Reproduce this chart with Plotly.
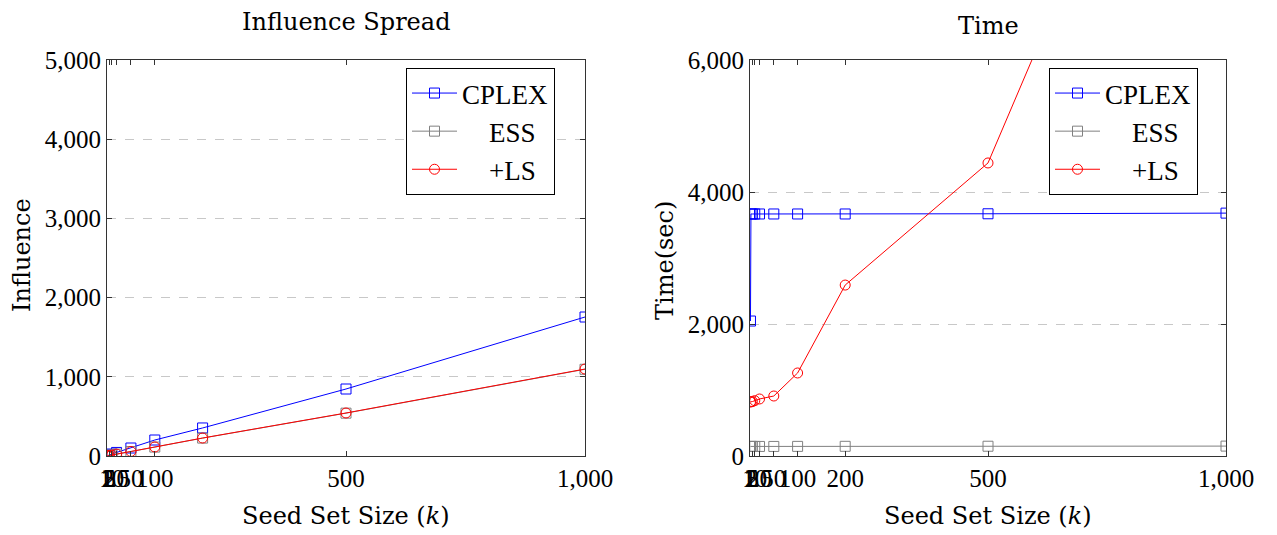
import plotly.graph_objects as go

seed_sizes = [1, 2, 5, 10, 20, 50, 100, 200, 500, 1000]

# Influence spread
inf_cplex = [3, 6, 13, 25, 45, 101, 202, 354, 846, 1755]
inf_ess = [1.4, 2.8, 6.3, 11.8, 23.5, 56, 113, 226, 541, 1095]
inf_ls = [1.5, 3, 6.5, 12, 24, 57, 114, 227, 543, 1098]

# Time (sec)
time_cplex = [2045, 3667, 3667, 3667, 3667, 3667, 3667, 3667, 3670, 3680]
time_ess = [145, 145, 145, 145, 145, 145, 146, 147, 148, 150]
time_ls = [820, 820, 825, 838, 864, 909, 1258, 2590, 4440, 12900]

left_ticks = [1, 2, 5, 10, 20, 50, 100, 500, 1000]
right_ticks = [1, 2, 5, 10, 20, 50, 100, 200, 500, 1000]

TICKFONT = "Liberation Serif"
TEXTFONT = "DejaVu Serif"
W, H = 1277, 535
NB = "\u00a0"

fig = go.Figure()

def add(x, y, name, color, symbol, xa, ya, leg):
    fig.add_trace(go.Scatter(
        x=x, y=y, name=name, mode="lines+markers",
        line=dict(color=color, width=1),
        marker=dict(symbol=symbol, size=10, color=color,
                    line=dict(color=color, width=1)),
        xaxis=xa, yaxis=ya, legend=leg, cliponaxis=True))

labels = ["CPLEX", NB * 4 + "ESS", NB * 4 + "+LS"]

add(seed_sizes, inf_cplex, labels[0], "blue", "square-open", "x", "y", "legend")
add(seed_sizes, inf_ess, labels[1], "gray", "square-open", "x", "y", "legend")
add(seed_sizes, inf_ls, labels[2], "red", "circle-open", "x", "y", "legend")
add(seed_sizes, time_cplex, labels[0], "blue", "square-open", "x2", "y2", "legend2")
add(seed_sizes, time_ess, labels[1], "gray", "square-open", "x2", "y2", "legend2")
add(seed_sizes, time_ls, labels[2], "red", "circle-open", "x2", "y2", "legend2")

axis_common = dict(
    showline=True, linecolor="#333", linewidth=1, mirror="allticks",
    ticks="inside", ticklen=5, tickcolor="#333", zeroline=False,
    tickfont=dict(family=TICKFONT, size=25, color="black"),
    tickformat=",", automargin=False,
)

ydom = [(H - 456) / H, (H - 60) / H]

leg_common = dict(xanchor="left", yanchor="top", bgcolor="white",
                  bordercolor="black", borderwidth=1, itemwidth=45,
                  font=dict(family=TICKFONT, size=27, color="black"))

fig.update_layout(
    width=W, height=H, margin=dict(l=0, r=0, t=0, b=0, autoexpand=False),
    paper_bgcolor="white", plot_bgcolor="white",
    font=dict(family=TICKFONT, color="black"),
    xaxis=dict(domain=[107 / W, 585 / W], range=[0, 1000], tickvals=left_ticks,
               tickangle=0, showgrid=False, anchor="y", **axis_common),
    yaxis=dict(domain=ydom, range=[0, 5000], tickvals=[0, 1000, 2000, 3000, 4000, 5000],
               showgrid=True, gridcolor="#c8c8c8", griddash="dash", anchor="x", **axis_common),
    xaxis2=dict(domain=[750 / W, 1226 / W], range=[0, 1000], tickvals=right_ticks,
                tickangle=0, showgrid=False, anchor="y2", **axis_common),
    yaxis2=dict(domain=ydom, range=[0, 6000], tickvals=[0, 2000, 4000, 6000],
                showgrid=True, gridcolor="#c8c8c8", griddash="dash", anchor="x2", **axis_common),
    legend=dict(x=406 / W, y=1 - 68 / H, **leg_common),
    legend2=dict(x=1049 / W, y=1 - 68 / H, **leg_common),
)

def ann(text, x, y, size=24, angle=0):
    fig.add_annotation(text=text, x=x / W, y=1 - y / H, xref="paper", yref="paper",
                       showarrow=False, textangle=angle, xanchor="center", yanchor="middle",
                       font=dict(family=TEXTFONT, size=size, color="black"))

ann("Influence Spread", 346, 22)
ann("Time", 988, 26)
ann("Seed Set Size (<i>k</i>)", 346, 516)
ann("Seed Set Size (<i>k</i>)", 988, 516)
ann("Influence", 22, 255, angle=-90)
ann("Time(sec)", 665, 260, angle=-90)

fig.write_html("out.html")
